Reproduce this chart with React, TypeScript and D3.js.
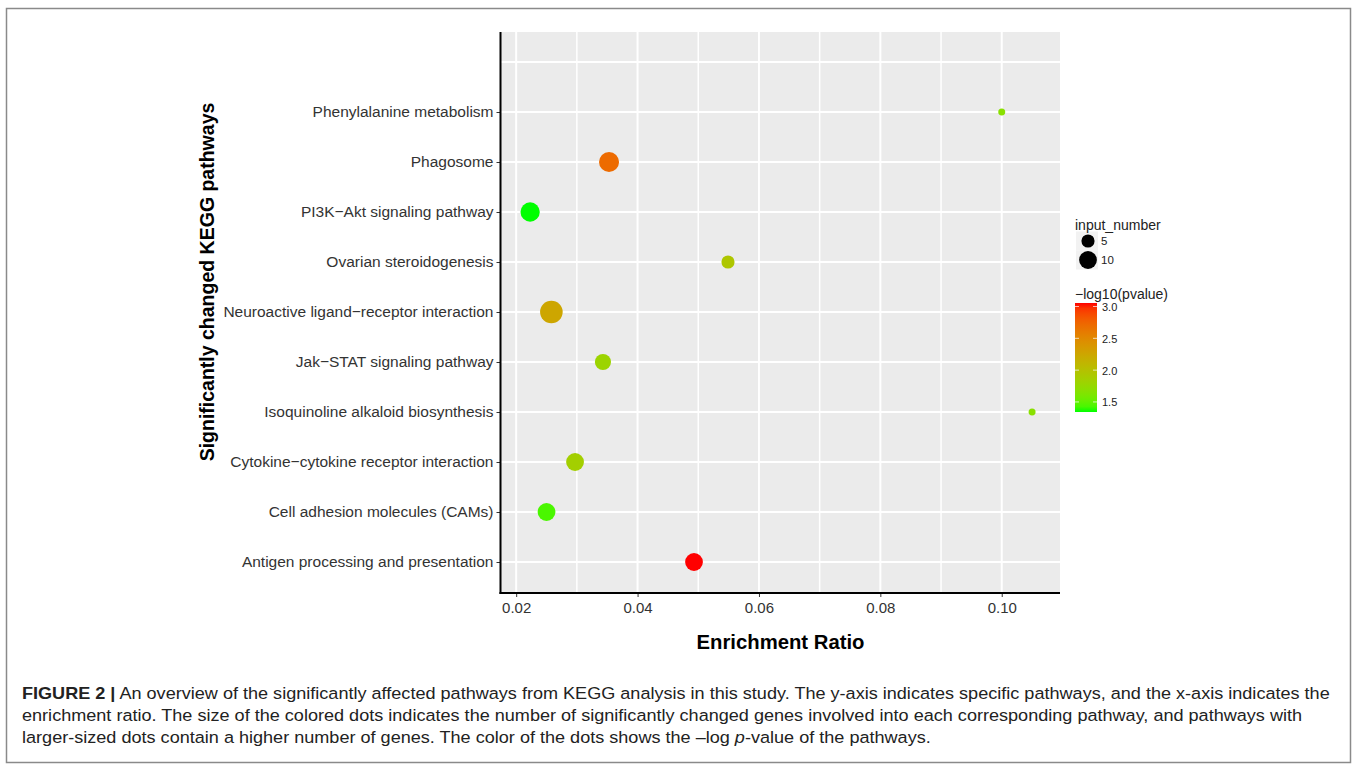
import React, { useEffect, useRef } from 'react';
import * as d3 from 'd3';

// KEGG enrichment bubble chart (bottom row first, as ggplot draws them)
const pathways = [
  'Antigen processing and presentation',
  'Cell adhesion molecules (CAMs)',
  'Cytokine−cytokine receptor interaction',
  'Isoquinoline alkaloid biosynthesis',
  'Jak−STAT signaling pathway',
  'Neuroactive ligand−receptor interaction',
  'Ovarian steroidogenesis',
  'PI3K−Akt signaling pathway',
  'Phagosome',
  'Phenylalanine metabolism',
];
const enrichmentRatio = [0.0493, 0.025, 0.0297, 0.105, 0.0343, 0.0258, 0.0549, 0.0223, 0.0353, 0.1];
const inputNumber = [10, 10, 10, 1, 8, 17, 5, 12, 13, 1];
const negLog10P = [3.055, 1.43, 1.85, 1.68, 1.8, 2.25, 1.94, 1.342, 2.71, 1.68];

const xTicks = [0.02, 0.04, 0.06, 0.08, 0.1];
const sizeBreaks = [5, 10];
const colorBreaks = [1.5, 2.0, 2.5, 3.0];

const captionLines = [
  [
    { t: 'FIGURE 2 |', w: 'bold' },
    { t: ' An overview of the significantly affected pathways from KEGG analysis in this study. The y-axis indicates specific pathways, and the x-axis indicates the' },
  ],
  [{ t: 'enrichment ratio. The size of the colored dots indicates the number of significantly changed genes involved into each corresponding pathway, and pathways with' }],
  [
    { t: 'larger-sized dots contain a higher number of genes. The color of the dots shows the –log ' },
    { t: 'p', s: 'italic' },
    { t: '-value of the pathways.' },
  ],
];

const FONT = '"Liberation Sans", Arial, Helvetica, sans-serif';

export default function App() {
  const ref = useRef<SVGSVGElement>(null);

  useEffect(() => {
    document.body.style.margin = '0';
    const W = 1357;
    const H = 769;
    const panel = { left: 501, right: 1060, top: 32, bottom: 592 };

    const svg = d3.select(ref.current).attr('width', W).attr('height', H).style('font-family', FONT);
    svg.selectAll('*').remove();

    svg.append('rect').attr('width', W).attr('height', H).attr('fill', '#fff');
    // figure frame
    svg
      .append('rect')
      .attr('x', 6.5)
      .attr('y', 8.5)
      .attr('width', 1344)
      .attr('height', 754)
      .attr('fill', 'none')
      .attr('stroke', '#8a8a8a')
      .attr('stroke-width', 1.5);

    const x = d3.scaleLinear().domain([0.0175, 0.1096]).range([panel.left, panel.right]);
    const y = d3
      .scalePoint<string>()
      .domain([...pathways, ''])
      .range([panel.bottom, panel.top])
      .padding(0.6);
    const extent = d3.extent(negLog10P) as [number, number];
    const color = d3
      .scaleLinear<string>()
      .domain(extent)
      .range(['#00ff00', '#ff0000'])
      .interpolate(d3.interpolateLab);
    const size = d3.scaleSqrt().domain([0, 17]).range([1, 11.3]);

    // panel + grid
    svg
      .append('rect')
      .attr('x', panel.left)
      .attr('y', panel.top)
      .attr('width', panel.right - panel.left)
      .attr('height', panel.bottom - panel.top)
      .attr('fill', '#ebebeb');

    const grid = svg.append('g').attr('stroke', '#fff');
    grid
      .selectAll('line.v')
      .data(x.ticks(10))
      .join('line')
      .attr('x1', d => x(d))
      .attr('x2', d => x(d))
      .attr('y1', panel.top)
      .attr('y2', panel.bottom)
      .attr('stroke-width', d => (xTicks.some(t => Math.abs(t - d) < 1e-9) ? 2 : 1.5));
    grid
      .selectAll('line.h')
      .data(y.domain())
      .join('line')
      .attr('x1', panel.left)
      .attr('x2', panel.right)
      .attr('y1', d => y(d)!)
      .attr('y2', d => y(d)!)
      .attr('stroke-width', 2);

    // bubbles
    svg
      .append('g')
      .selectAll('circle')
      .data(pathways)
      .join('circle')
      .attr('cx', (d, i) => x(enrichmentRatio[i]))
      .attr('cy', d => y(d)!)
      .attr('r', (d, i) => size(inputNumber[i]))
      .attr('fill', (d, i) => color(negLog10P[i]));

    // axes
    const yAxis = svg
      .append('g')
      .attr('transform', `translate(${panel.left - 0.5},0)`)
      .call(d3.axisLeft(y).tickValues(pathways).tickSize(4).tickPadding(3));
    yAxis.select('.domain').remove();
    yAxis.selectAll('line').attr('stroke', '#333');
    yAxis
      .selectAll('text')
      .attr('fill', '#333')
      .attr('font-size', 15.5)
      .attr('font-family', FONT);

    const xAxis = svg
      .append('g')
      .attr('transform', `translate(0,${panel.bottom + 1})`)
      .call(d3.axisBottom(x).tickValues(xTicks).tickFormat(d3.format('.2f')).tickSize(4).tickPadding(5));
    xAxis.select('.domain').remove();
    xAxis.selectAll('line').attr('stroke', '#333');
    xAxis
      .selectAll('text')
      .attr('fill', '#333')
      .attr('font-size', 15)
      .attr('font-family', FONT);

    svg
      .append('line')
      .attr('x1', panel.left - 0.5)
      .attr('x2', panel.left - 0.5)
      .attr('y1', panel.top)
      .attr('y2', panel.bottom + 2)
      .attr('stroke', '#000')
      .attr('stroke-width', 2);
    svg
      .append('line')
      .attr('x1', panel.left - 1.5)
      .attr('x2', panel.right)
      .attr('y1', panel.bottom + 1)
      .attr('y2', panel.bottom + 1)
      .attr('stroke', '#000')
      .attr('stroke-width', 2);

    // axis titles
    svg
      .append('text')
      .attr('transform', 'translate(214,282) rotate(-90)')
      .attr('text-anchor', 'middle')
      .attr('font-weight', 'bold')
      .attr('font-size', 19.5)
      .attr('fill', '#000')
      .text('Significantly changed KEGG pathways');
    svg
      .append('text')
      .attr('x', (panel.left + panel.right) / 2)
      .attr('y', 649)
      .attr('text-anchor', 'middle')
      .attr('font-weight', 'bold')
      .attr('font-size', 20.3)
      .attr('fill', '#000')
      .text('Enrichment Ratio');

    // size legend
    const lg = svg.append('g');
    sizeBreaks.forEach((b, i) => {
      const cy = 241 + i * 19;
      lg.append('rect').attr('x', 1076).attr('y', cy - 9.5).attr('width', 22).attr('height', 19).attr('fill', '#f2f2f2');
      lg.append('circle').attr('cx', 1088).attr('cy', cy).attr('r', size(b)).attr('fill', '#000');
      lg.append('text')
        .attr('x', 1101)
        .attr('y', cy + 4)
        .attr('font-size', 11.5)
        .attr('fill', '#222')
        .text(b);
    });
    lg.append('text').attr('x', 1075).attr('y', 230).attr('font-size', 14).attr('fill', '#222').text('input_number');

    // colour bar
    const cbTop = 303;
    const cbBottom = 412;
    const cb = d3.scaleLinear().domain(extent).range([cbBottom, cbTop]);
    const grad = svg
      .append('defs')
      .append('linearGradient')
      .attr('id', 'cbar')
      .attr('x1', 0)
      .attr('x2', 0)
      .attr('y1', 1)
      .attr('y2', 0);
    grad
      .selectAll('stop')
      .data(d3.range(0, 1.0001, 0.05))
      .join('stop')
      .attr('offset', d => d)
      .attr('stop-color', d => color(extent[0] + d * (extent[1] - extent[0])));
    lg.append('text').attr('x', 1075).attr('y', 299).attr('font-size', 14).attr('fill', '#222').text('−log10(pvalue)');
    lg.append('rect')
      .attr('x', 1075)
      .attr('y', cbTop)
      .attr('width', 22)
      .attr('height', cbBottom - cbTop)
      .attr('fill', 'url(#cbar)');
    colorBreaks.forEach(b => {
      const yy = cb(b);
      lg.append('line').attr('x1', 1075).attr('x2', 1079).attr('y1', yy).attr('y2', yy).attr('stroke', '#fff').attr('stroke-opacity', 0.7);
      lg.append('line').attr('x1', 1093).attr('x2', 1097).attr('y1', yy).attr('y2', yy).attr('stroke', '#fff').attr('stroke-opacity', 0.7);
      lg.append('text')
        .attr('x', 1102)
        .attr('y', yy + 4.5)
        .attr('font-size', 11)
        .attr('fill', '#222')
        .text(d3.format('.1f')(b));
    });

    // caption (source figure is slightly stretched horizontally)
    const cap = svg
      .append('g')
      .attr('transform', 'translate(22,0) scale(1.096,1)')
      .attr('font-size', 16.5)
      .attr('fill', '#222');
    captionLines.forEach((line, i) => {
      const t = cap.append('text').attr('x', 0).attr('y', 699.5 + i * 22);
      line.forEach(seg => {
        t.append('tspan')
          .attr('font-weight', seg.w || 'normal')
          .attr('font-style', seg.s || 'normal')
          .text(seg.t);
      });
    });
  }, []);

  return <svg ref={ref} />;
}
